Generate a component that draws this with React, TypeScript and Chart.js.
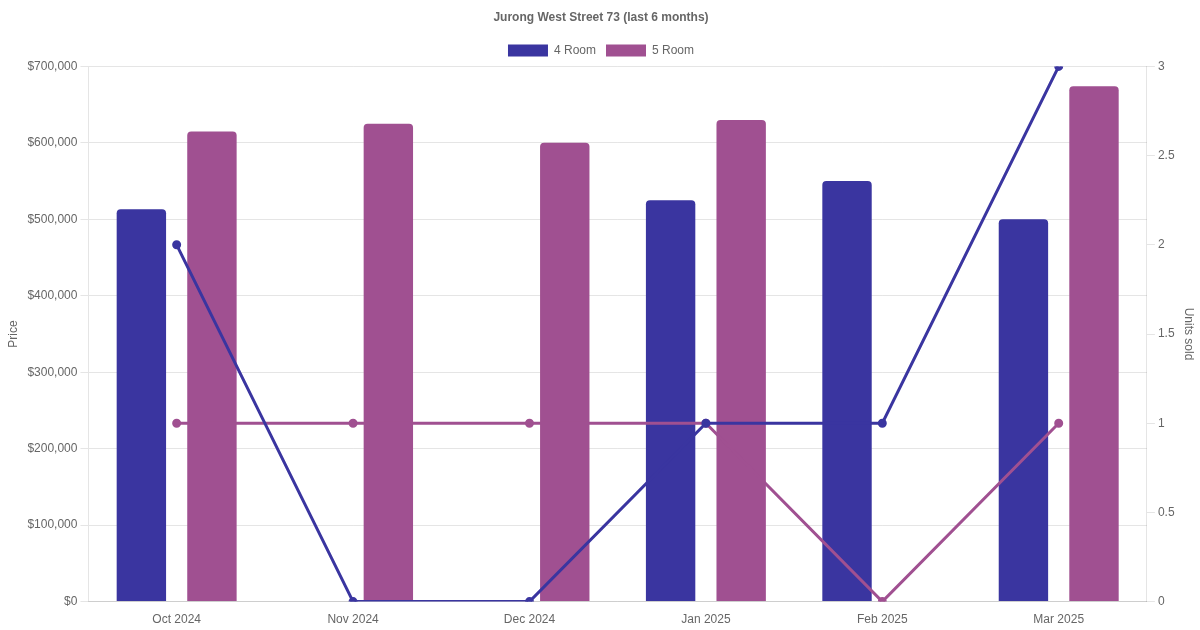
import React, { useEffect, useRef } from 'react';
import { Chart, registerables } from 'chart.js';

Chart.register(...registerables);

const months: string[] = ['Oct 2024', 'Nov 2024', 'Dec 2024', 'Jan 2025', 'Feb 2025', 'Mar 2025'];

// median price per month
const price4Room: (number | null)[] = [513000, null, null, 525000, 550000, 500000];
const price5Room: (number | null)[] = [615000, 625000, 600000, 630000, null, 674000];

// units sold per month
const units4Room: number[] = [2, 0, 0, 1, 1, 3];
const units5Room: number[] = [1, 1, 1, 1, 0, 1];

const BLUE = '#3a35a0';
const PURPLE = '#a05091';

const App: React.FC = () => {
  const canvasRef = useRef<HTMLCanvasElement | null>(null);
  const chartInstance = useRef<Chart | null>(null);

  useEffect(() => {
    if (!canvasRef.current) return;

    chartInstance.current = new Chart(canvasRef.current, {
      type: 'bar',
      data: {
        labels: months,
        datasets: [
          {
            type: 'bar',
            label: '4 Room',
            data: price4Room,
            backgroundColor: BLUE,
            borderRadius: 4,
            yAxisID: 'y',
            order: 1,
            barPercentage: 0.7,
            categoryPercentage: 0.8,
          },
          {
            type: 'bar',
            label: '5 Room',
            data: price5Room,
            backgroundColor: PURPLE,
            borderRadius: 4,
            yAxisID: 'y',
            order: 1,
            barPercentage: 0.7,
            categoryPercentage: 0.8,
          },
          {
            type: 'line',
            label: '4 Room units',
            data: units4Room,
            borderColor: BLUE,
            backgroundColor: BLUE,
            borderWidth: 3,
            pointRadius: 3,
            tension: 0,
            yAxisID: 'y1',
            order: 0,
          },
          {
            type: 'line',
            label: '5 Room units',
            data: units5Room,
            borderColor: PURPLE,
            backgroundColor: PURPLE,
            borderWidth: 3,
            pointRadius: 3,
            tension: 0,
            yAxisID: 'y1',
            order: 0,
          },
        ],
      } as any,
      options: {
        animation: false,
        responsive: true,
        maintainAspectRatio: false,
        layout: { padding: { left: 2 } },
        plugins: {
          title: {
            display: true,
            text: 'Jurong West Street 73 (last 6 months)',
            color: '#666',
            font: { size: 12, weight: 'bold' },
          },
          legend: {
            labels: {
              color: '#666',
              filter: (item) => item.datasetIndex !== undefined && item.datasetIndex < 2,
            },
          },
          tooltip: { enabled: false },
        },
        scales: {
          x: {
            grid: { display: false },
            ticks: { color: '#666' },
          },
          y: {
            position: 'left',
            min: 0,
            max: 700000,
            ticks: {
              stepSize: 100000,
              color: '#666',
              callback: (v) => '$' + Number(v).toLocaleString('en-US'),
            },
            title: { display: true, text: 'Price', color: '#666' },
          },
          y1: {
            position: 'right',
            min: 0,
            max: 3,
            ticks: { stepSize: 0.5, color: '#666', callback: (v) => String(v) },
            grid: { drawOnChartArea: false },
            title: { display: true, text: 'Units sold', color: '#666' },
          },
        },
      },
    });

    return () => {
      if (chartInstance.current) {
        chartInstance.current.destroy();
        chartInstance.current = null;
      }
    };
  }, []);

  return (
    <div style={{ position: 'absolute', left: 0, top: 0, width: 1200, height: 630, background: '#fff' }}>
      <canvas ref={canvasRef}></canvas>
    </div>
  );
};

export default App;
